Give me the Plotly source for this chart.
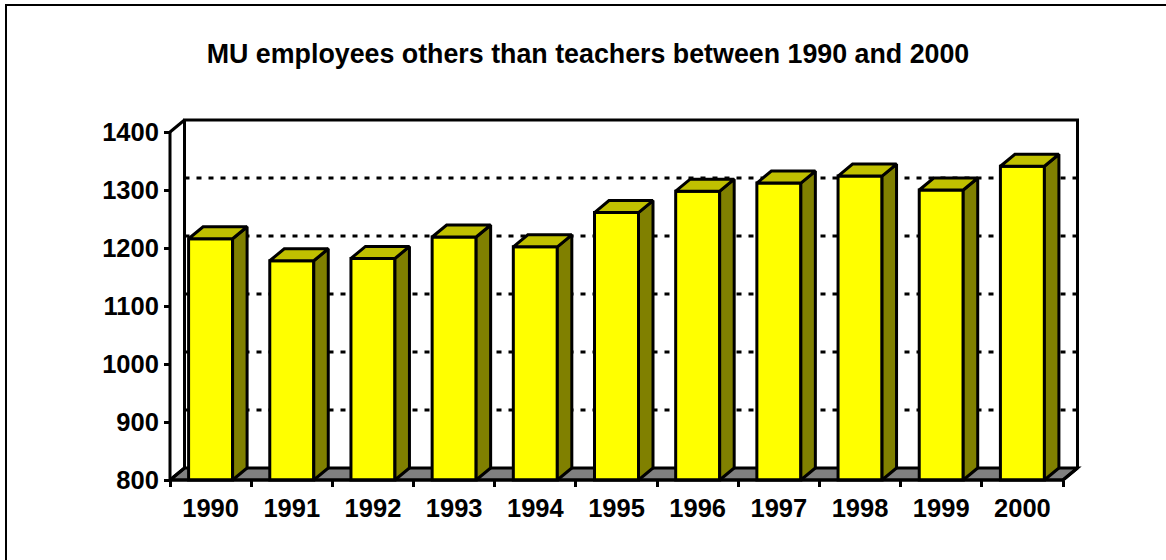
"""MU employees others than teachers, drawn as pseudo 3D columns"""
import plotly.graph_objects as go

YEARS = ["1990", "1991", "1992", "1993", "1994", "1995", "1996", "1997", "1998", "1999", "2000"]
EMPLOYEES = [1216, 1178, 1182, 1219, 1202, 1261, 1298, 1312, 1324, 1300, 1341]
Y_TICKS = [800, 900, 1000, 1100, 1200, 1300, 1400]
TITLE = "MU employees others than teachers between 1990 and 2000"

WIDTH, HEIGHT = 1166, 560
# front plane of the box in pixels, the plot area is PAD larger so no edge gets clipped
FRONT_LEFT, FRONT_RIGHT, FRONT_BOTTOM, FRONT_TOP = 170, 1063, 480, 132
PAD = 10
LEFT, RIGHT, TOP, BOTTOM = FRONT_LEFT - PAD, 1078 + PAD, 120 - PAD, FRONT_BOTTOM + PAD
PX_PER_CAT = (FRONT_RIGHT - FRONT_LEFT) / len(YEARS)
PX_PER_UNIT = (FRONT_BOTTOM - FRONT_TOP) / (Y_TICKS[-1] - Y_TICKS[0])
DX = 14.5 / PX_PER_CAT
DY = 12 / PX_PER_UNIT
BAR_WIDTH = 44 / PX_PER_CAT

BLACK = "#000000"
LW = 3
xs = list(range(len(YEARS)))
xmin, xmax = -0.5, len(YEARS) - 0.5
ymin, ymax = Y_TICKS[0], Y_TICKS[-1]
x_start = xmin - PAD / PX_PER_CAT
y_start = ymin - PAD / PX_PER_UNIT
xrange_ = [x_start, x_start + (RIGHT - LEFT) / PX_PER_CAT]
yrange_ = [y_start, y_start + (BOTTOM - TOP) / PX_PER_UNIT]


def poly_path(points):
    return "M " + " L ".join(f"{x},{y}" for x, y in points) + " Z"


shapes = []
# page frame, right and bottom edges fall outside the picture
shapes.append(dict(type="rect", xref="paper", yref="paper",
                   x0=(6 - LEFT) / (RIGHT - LEFT), x1=(1175 - LEFT) / (RIGHT - LEFT),
                   y0=(BOTTOM - 570) / (BOTTOM - TOP), y1=(BOTTOM - 5) / (BOTTOM - TOP),
                   line=dict(color=BLACK, width=2), layer="below"))
# grey floor
shapes.append(dict(type="path", layer="below", fillcolor="#808080", line=dict(color=BLACK, width=LW),
                   path=poly_path([(xmin, ymin), (xmin + DX, ymin + DY), (xmax + DX, ymin + DY), (xmax, ymin)])))
# dashed gridlines on the back wall
for t in Y_TICKS[1:-1]:
    shapes.append(dict(type="line", layer="below", x0=xmin + DX, x1=xmax + DX, y0=t + DY, y1=t + DY,
                       line=dict(color=BLACK, width=LW, dash="5px,7px")))

fig = go.Figure()

# box edges
box_x = [xmin, xmin, xmax, None,
         xmin, xmin + DX, None,
         xmin + DX, xmin + DX, xmax + DX, xmax + DX, None,
         xmax, xmax + DX, None,
         xmin, xmin + DX]
box_y = [ymax, ymin, ymin, None,
         ymin, ymin + DY, None,
         ymin + DY, ymax + DY, ymax + DY, ymin + DY, None,
         ymin, ymin + DY, None,
         ymax, ymax + DY]
fig.add_trace(go.Scatter(x=box_x, y=box_y, mode="lines", hoverinfo="skip",
                         line=dict(color=BLACK, width=LW)))

fig.add_trace(go.Bar(x=xs, y=[v - ymin for v in EMPLOYEES], base=ymin, width=BAR_WIDTH,
                     marker=dict(color="#FFFF00", line=dict(color=BLACK, width=LW))))

# side and top faces of each column
for x, v in zip(xs, EMPLOYEES):
    x0, x1 = x - BAR_WIDTH / 2, x + BAR_WIDTH / 2
    fig.add_trace(go.Scatter(x=[x1, x1 + DX, x1 + DX, x1, x1], y=[ymin, ymin + DY, v + DY, v, ymin],
                             mode="lines", fill="toself", fillcolor="#808000", hoverinfo="skip",
                             line=dict(color=BLACK, width=LW)))
    fig.add_trace(go.Scatter(x=[x0, x0 + DX, x1 + DX, x1, x0], y=[v, v + DY, v + DY, v, v],
                             mode="lines", fill="toself", fillcolor="#C0C000", hoverinfo="skip",
                             line=dict(color=BLACK, width=LW)))

fig.update_layout(
    width=WIDTH, height=HEIGHT, showlegend=False,
    paper_bgcolor="white", plot_bgcolor="white",
    margin=dict(l=LEFT, r=WIDTH - RIGHT, t=TOP, b=HEIGHT - BOTTOM, autoexpand=False),
    font=dict(family="Liberation Sans", color=BLACK),
    title=dict(text=f"<b>{TITLE}</b>", font=dict(size=26.8), x=588 / WIDTH, xanchor="center",
               y=1 - 54 / HEIGHT, yanchor="middle"),
    shapes=shapes,
    xaxis=dict(range=xrange_, anchor="free", position=PAD / (BOTTOM - TOP),
               tickmode="array", tickvals=xs, ticktext=[f"<b>{y}</b>" for y in YEARS],
               ticks="", tickfont=dict(size=25.5), showgrid=False, zeroline=False, showline=False,
               ticklabelstandoff=10,
               minor=dict(tickmode="array", tickvals=[x - 0.5 for x in xs] + [xmax], ticks="outside",
                          ticklen=6, tickwidth=LW, tickcolor=BLACK, showgrid=False)),
    yaxis=dict(range=yrange_, anchor="free", position=PAD / (RIGHT - LEFT),
               tickmode="array", tickvals=Y_TICKS, ticktext=[f"<b>{t}</b>" for t in Y_TICKS],
               ticks="outside", ticklen=6, tickwidth=LW, tickcolor=BLACK, tickfont=dict(size=25.5),
               showgrid=False, zeroline=False, showline=False),
)

fig.write_html("out.html", config=dict(displayModeBar=False),
               post_script="document.body.style.margin = '0';")
